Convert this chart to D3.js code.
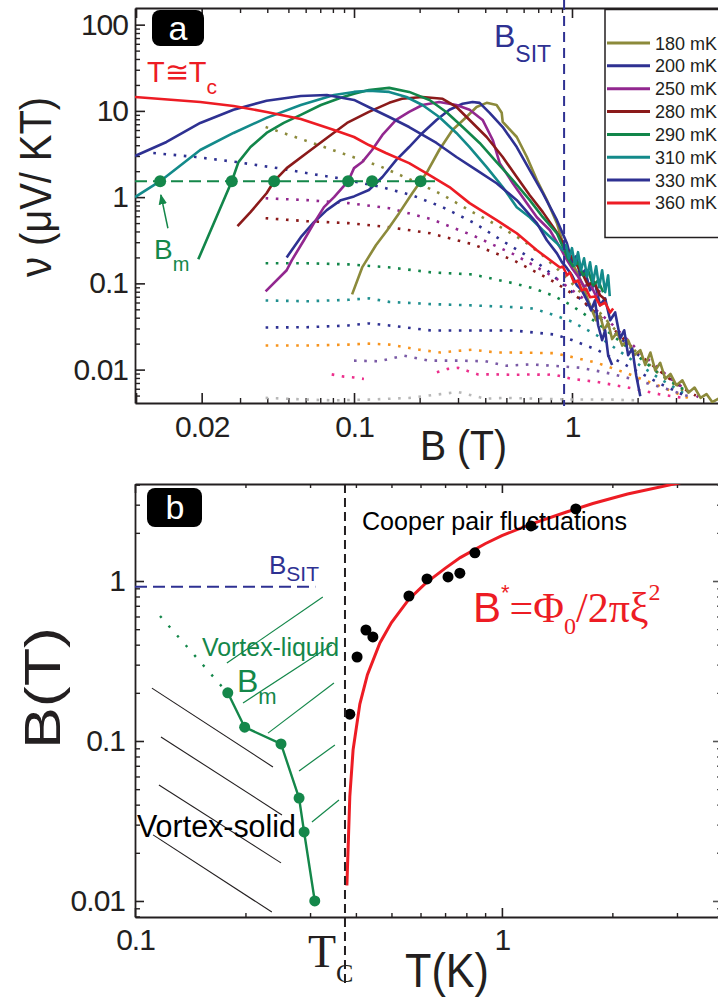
<!DOCTYPE html>
<html><head><meta charset="utf-8">
<script src="https://cdn.jsdelivr.net/npm/d3@7"></script>
<style>
html,body{margin:0;padding:0;background:#fff;}
svg{display:block;}
</style></head><body>
<svg id="fig" width="718" height="998"></svg>
<script>
// ---------- Panel a: Nernst signal nu(B) at several temperatures ----------
const temperatures = ["180 mK","200 mK","250 mK","280 mK","290 mK","310 mK","330 mK","360 mK"];
const curveColors  = ["#8c8a3b","#2e3192","#92278f","#8b1a1a","#12864a","#138a8a","#2e3192","#ed1c24"];

// [B (T), nu (uV/KT)]
const nu180 = [[0.098,0.0745],[0.109,0.153],[0.126,0.277],[0.142,0.413],[0.161,0.652],[0.185,1.11],[0.215,1.9],[0.246,3.52],[0.283,6.0],[0.328,8.5],[0.365,11.1],[0.406,12.4],[0.451,11.7],[0.476,9.5],[0.481,7.45],[0.558,4.98],[0.621,2.92],[0.69,1.58],[0.767,0.923],[0.853,0.499],[0.909,0.292],[0.979,0.195],[1.054,0.134],[1.124,0.0947],[1.185,0.0636],[1.236,0.0487],[1.29,0.0373],[1.345,0.0426],[1.404,0.0286],[1.465,0.035],[1.528,0.0226],[1.612,0.027],[1.70,0.019],[1.81,0.0219],[1.93,0.0147],[2.058,0.0168],[2.17,0.0113],[2.29,0.0158],[2.41,0.0098],[2.54,0.012],[2.68,0.0078],[2.83,0.0089],[3.01,0.0066],[3.21,0.0075],[3.42,0.0054],[3.65,0.0062],[3.89,0.0047],[4.14,0.0052],[4.4,0.0042],[4.7,0.0046]];
const nu200 = [[0.0491,0.2],[0.057,0.343],[0.0655,0.512],[0.075,0.706],[0.087,0.923],[0.1,1.02],[0.117,1.21],[0.135,1.71],[0.156,2.69],[0.179,3.81],[0.206,5.55],[0.239,7.85],[0.274,10.3],[0.315,12.1],[0.35,12.7],[0.377,12.4],[0.419,9.5],[0.481,6.5],[0.558,3.81],[0.64,2.06],[0.735,1.11],[0.853,0.54],[0.948,0.292],[1.0,0.176],[1.043,0.206],[1.089,0.124],[1.148,0.142],[1.21,0.083],[1.276,0.1],[1.345,0.0556],[1.419,0.067],[1.497,0.0373],[1.578,0.046],[1.664,0.023],[1.736,0.0286],[1.81,0.0147],[1.89,0.0175],[1.97,0.0086],[2.058,0.0049]];
const nu250 = [[0.0393,0.0807],[0.0491,0.142],[0.0518,0.185],[0.0589,0.316],[0.0655,0.499],[0.0728,0.765],[0.081,1.0],[0.094,1.53],[0.1,2.17],[0.109,2.55],[0.121,3.52],[0.135,5.26],[0.156,7.85],[0.179,9.73],[0.206,11.7],[0.246,12.7],[0.295,11.7],[0.339,10.3],[0.389,7.85],[0.433,4.6],[0.466,2.48],[0.535,1.45],[0.621,0.852],[0.69,0.585],[0.792,0.413],[0.881,0.262],[0.938,0.195],[1.0,0.15],[1.066,0.12],[1.136,0.092],[1.21,0.1],[1.29,0.071],[1.345,0.083]];
const nu280 = [[0.0292,0.46],[0.0335,0.67],[0.0397,1.11],[0.043,1.53],[0.0491,2.17],[0.0607,3.25],[0.075,4.85],[0.0929,7.25],[0.117,9.73],[0.145,12.4],[0.166,13.8],[0.206,14.5],[0.255,13.8],[0.295,11.1],[0.339,7.85],[0.406,4.98],[0.481,2.92],[0.558,1.71],[0.64,1.05],[0.735,0.67],[0.853,0.39],[0.948,0.242],[1.032,0.176],[1.11,0.134],[1.185,0.0947],[1.26,0.105],[1.345,0.0726],[1.434,0.0636]];
const nu290 = [[0.0193,0.19],[0.0275,1.53],[0.0295,2.55],[0.0335,3.81],[0.0397,5.55],[0.0476,7.25],[0.057,8.98],[0.0705,11.7],[0.087,14.2],[0.1,15.8],[0.117,17.5],[0.145,18.5],[0.179,16.6],[0.222,13.4],[0.265,9.7],[0.315,6.5],[0.377,4.25],[0.451,2.55],[0.535,1.58],[0.64,0.923],[0.735,0.585],[0.853,0.381],[0.909,0.262],[0.958,0.195],[1.01,0.158],[1.066,0.176],[1.124,0.124],[1.185,0.142],[1.249,0.0947],[1.318,0.108],[1.39,0.079]];
const nu310 = [[0.00989,1.0],[0.0129,1.53],[0.0197,3.52],[0.028,5.55],[0.0397,8.3],[0.057,11.7],[0.081,15.3],[0.1,16.6],[0.117,17.1],[0.145,16.6],[0.174,14.5],[0.206,11.7],[0.246,8.5],[0.295,5.55],[0.339,3.81],[0.406,2.23],[0.481,1.31],[0.558,0.765],[0.64,0.585],[0.735,0.413],[0.853,0.292],[0.909,0.242],[0.938,0.277],[0.969,0.195],[1.0,0.256],[1.032,0.162],[1.066,0.23],[1.10,0.142],[1.136,0.195],[1.172,0.12],[1.21,0.176],[1.249,0.103],[1.29,0.158],[1.332,0.09],[1.375,0.142],[1.419,0.079],[1.465,0.124],[1.49,0.071]];
const nu330 = [[0.00989,3.0],[0.0138,4.36],[0.0197,7.25],[0.028,10.3],[0.0397,13.1],[0.057,14.9],[0.075,15.3],[0.1,13.4],[0.121,10.6],[0.145,8.5],[0.179,6.5],[0.239,4.25],[0.295,2.92],[0.365,2.06],[0.451,1.45],[0.558,0.923],[0.69,0.499],[0.767,0.316],[0.853,0.223],[0.899,0.176],[0.948,0.15],[1.0,0.124],[1.054,0.0947],[1.11,0.083],[1.172,0.0636],[1.223,0.0487],[1.276,0.0636],[1.318,0.0327],[1.375,0.0219],[1.419,0.0286],[1.465,0.0147],[1.528,0.0113]];
const nu360 = [[0.00989,14.5],[0.0197,12.7],[0.028,11.4],[0.0397,9.73],[0.057,8.07],[0.081,6.0],[0.1,4.98],[0.117,4.02],[0.14,3.25],[0.179,2.48],[0.222,1.8],[0.274,1.31],[0.339,0.852],[0.451,0.54],[0.558,0.381],[0.69,0.242],[0.881,0.153],[0.909,0.157],[0.948,0.124],[0.979,0.134],[1.021,0.103],[1.066,0.108],[1.11,0.083],[1.16,0.087],[1.21,0.0689],[1.276,0.0706],[1.345,0.0556],[1.419,0.060],[1.497,0.0459],[1.545,0.051]];
const solidCurves = [nu180, nu200, nu250, nu280, nu290, nu310, nu330, nu360];

// dotted curves at higher temperatures
const dotColors = ["#8c8a3b","#2e3192","#92278f","#8b1a1a","#12864a","#1f8f8f","#2e3192","#f7941d","#7a5aa6","#ec2f8c","#b8b8b8"];
const dotOlive  = [[0.0393,6.5],[0.0607,4.48],[0.0929,3.08],[0.131,2.29],[0.179,1.62],[0.252,1.08],[0.35,0.67],[0.481,0.436],[0.594,0.316],[0.72,0.22],[0.85,0.15],[1.0,0.1],[1.3,0.05],[1.8,0.02],[2.5,0.009],[3.3,0.0055]];
const dotNavyHi = [[0.012,3.25],[0.0188,2.92],[0.0289,2.55],[0.0446,2.17],[0.069,1.8],[0.085,1.66],[0.133,1.31],[0.185,1.05],[0.255,0.765],[0.357,0.499],[0.491,0.3],[0.607,0.217],[0.75,0.15],[0.9,0.1],[1.1,0.065],[1.5,0.03],[2.0,0.015],[2.8,0.008],[3.6,0.005]];
const dotPurple = [[0.0393,0.97],[0.0607,0.923],[0.094,0.852],[0.145,0.745],[0.226,0.555],[0.35,0.361],[0.541,0.217],[0.835,0.117],[1.1,0.07],[1.5,0.035],[2.1,0.015],[3.0,0.007],[3.8,0.0048]];
const dotMaroon = [[0.0393,0.57],[0.0607,0.526],[0.094,0.499],[0.145,0.448],[0.224,0.381],[0.35,0.284],[0.541,0.185],[0.835,0.103],[1.1,0.065],[1.5,0.032],[2.1,0.014],[3.0,0.0068],[3.7,0.005]];
const dotGreen  = [[0.0393,0.171],[0.0607,0.171],[0.094,0.166],[0.147,0.153],[0.226,0.134],[0.35,0.127],[0.541,0.1],[0.668,0.0875],[0.835,0.0706],[1.0,0.055],[1.3,0.035],[1.8,0.018],[2.5,0.009],[3.4,0.0055]];
const dotTeal   = [[0.0393,0.0634],[0.0607,0.062],[0.094,0.0645],[0.117,0.067],[0.145,0.061],[0.226,0.0575],[0.35,0.0555],[0.541,0.053],[0.668,0.051],[0.835,0.0425],[1.0,0.036],[1.3,0.025],[1.8,0.014],[2.5,0.008],[3.3,0.0052]];
const dotNavyLo = [[0.0393,0.0308],[0.0607,0.031],[0.094,0.0325],[0.117,0.0343],[0.145,0.0325],[0.226,0.0284],[0.35,0.0284],[0.541,0.0284],[0.835,0.0255],[1.0,0.022],[1.3,0.017],[1.8,0.011],[2.5,0.007],[3.4,0.0048]];
const dotOrange = [[0.0393,0.019],[0.0607,0.019],[0.094,0.0195],[0.117,0.02],[0.145,0.0195],[0.2,0.017],[0.25,0.0158],[0.3,0.0165],[0.35,0.017],[0.45,0.0158],[0.541,0.0158],[0.835,0.0155],[1.0,0.014],[1.3,0.012],[1.8,0.009],[2.5,0.0065],[3.4,0.0047]];
const dotViolet = [[0.1,0.0127],[0.13,0.0125],[0.17,0.0145],[0.22,0.0127],[0.3,0.0127],[0.4,0.0125],[0.5,0.0111],[0.65,0.0115],[0.85,0.011],[1.1,0.0105],[1.5,0.009],[2.0,0.0075],[2.7,0.006],[3.5,0.0048]];
const dotPink   = [[0.24,0.0093],[0.27,0.0102],[0.3,0.0105],[0.37,0.0088],[0.45,0.0088],[0.55,0.0087],[0.65,0.0088],[0.75,0.0087],[0.82,0.0088],[1.0,0.0078],[1.3,0.0072],[1.8,0.0062],[2.5,0.0052],[3.4,0.0046]];
const dotPinkLow = [[0.079,0.0088],[0.09,0.0083],[0.1,0.0081],[0.111,0.0078]];
const dotGray   = [[0.0393,0.0047],[0.06,0.0045],[0.08,0.0044],[0.12,0.0045],[0.18,0.0047],[0.25,0.0052],[0.3,0.0055],[0.4,0.0046],[0.5,0.0047],[0.7,0.0046],[1.0,0.0045],[1.5,0.0045],[2.0,0.0044]];
const dottedCurves = [dotOlive, dotNavyHi, dotPurple, dotMaroon, dotGreen, dotTeal, dotNavyLo, dotOrange, dotViolet, dotPink, dotGray];

// melting field B_m where nu crosses the threshold
const bmFieldsA = [0.0129, 0.0275, 0.043, 0.094, 0.121, 0.202];
const bmLevelA = 1.53;
const bSIT = 0.92;

const nuTickLabels = [0.01, 0.1, 1, 10, 100];
const bTickLabels = [0.02, 0.1, 1];

// ---------- Panel b: phase diagram B(T) ----------
const bmT = [0.179, 0.199, 0.25, 0.28, 0.289, 0.309];
const bmB = [0.2, 0.122, 0.0958, 0.044, 0.027, 0.01];
const bmGuideT = [0.117, 0.174];
const bmGuideB = [0.605, 0.214];
const pairT = [0.385, 0.403, 0.426, 0.445, 0.558, 0.625, 0.713, 0.768, 0.844, 1.2, 1.59];
const pairB = [0.147, 0.335, 0.494, 0.447, 0.806, 1.03, 1.06, 1.12, 1.50, 2.21, 2.82];
const bStarT = [0.378, 0.385, 0.393, 0.41, 0.43, 0.465, 0.5, 0.558, 0.62, 0.7, 0.77, 0.9, 1.0, 1.2, 1.5, 1.77, 2.2, 2.96, 3.6];
const bStarB = [0.0125, 0.045, 0.088, 0.17, 0.26, 0.41, 0.55, 0.77, 0.97, 1.2, 1.4, 1.71, 1.92, 2.27, 2.7, 3.05, 3.5, 4.05, 4.45];
const Tc = 0.3735;
const bSitTmax = 0.31;
// hatching, [[T0,B0],[T1,B1]]
const solidHatch = [[[0.1112,0.214],[0.2377,0.0688]],[[0.1177,0.106],[0.2515,0.0345]],[[0.1162,0.0531],[0.25,0.0173]],[[0.112,0.0259],[0.236,0.00853]]];
const liquidHatch = [[[0.178,0.307],[0.325,0.794]],[[0.197,0.173],[0.344,0.398]],[[0.2304,0.112],[0.3485,0.2305]],[[0.28,0.065],[0.3506,0.0944]],[[0.3036,0.0312],[0.3597,0.0428]]];
const tTickLabels = [0.1, 1];
const bbTickLabels = [0.01, 0.1, 1];

// ---------- drawing ----------
const INK = "#231f20";
const SANS = '"Liberation Sans", Arial, Helvetica, sans-serif';
const SERIF = '"Liberation Serif", "Times New Roman", serif';
const GREEN = "#14874a";
const NAVY = "#2e3192";
const RED = "#ed1c24";

const svg = d3.select("#fig").attr("font-family", SANS);
svg.append("rect").attr("width", 718).attr("height", 998).attr("fill", "#fff");

const xA = d3.scaleLog().domain([0.00989, 6]).range([135, 741.6]);
const yA = d3.scaleLog().domain([0.0041, 156]).range([403, 8]);
const xB = d3.scaleLog().domain([0.1, 3.93]).range([135, 720]);
const yB = d3.scaleLog().domain([0.00794, 4.04]).range([917, 484]);

const defs = svg.append("defs");
defs.append("clipPath").attr("id", "clipA").append("rect").attr("x", 135).attr("y", 8).attr("width", 610).attr("height", 395);
defs.append("clipPath").attr("id", "clipB").append("rect").attr("x", 135).attr("y", 484).attr("width", 585).attr("height", 433);
defs.append("marker").attr("id", "arrowG").attr("viewBox", "0 0 10 10").attr("refX", 9).attr("refY", 5)
  .attr("markerWidth", 7).attr("markerHeight", 7).attr("orient", "auto-start-reverse")
  .append("path").attr("d", "M0,1 L10,5 L0,9 Z").attr("fill", GREEN);

function logTicks(scale) {
  const [d0, d1] = scale.domain();
  const out = [];
  for (let e = Math.floor(Math.log10(d0)); e <= Math.ceil(Math.log10(d1)); e++)
    for (let m = 1; m < 10; m++) {
      const v = +(m * Math.pow(10, e)).toPrecision(4);
      if (v >= d0 * 0.999 && v <= d1 * 1.001) out.push(v);
    }
  return out;
}
const isDecade = v => Math.abs(Math.log10(v) - Math.round(Math.log10(v))) < 1e-9;

function logAxis(axisFn, scale, transform, labels, o) {
  const all = logTicks(scale);
  const hasLab = v => labels.some(l => Math.abs(l - v) / l < 1e-6);
  const majors = all.filter(v => isDecade(v) || hasLab(v));
  const minors = all.filter(v => !(isDecade(v) || hasLab(v)));
  const gMin = svg.append("g").attr("transform", transform)
    .call(axisFn(scale).tickValues(minors).tickSizeInner(-o.minor).tickSizeOuter(0).tickFormat(() => ""));
  gMin.select(".domain").remove();
  gMin.selectAll(".tick line").attr("stroke", o.tickColor || INK).attr("stroke-width", 1.4);
  const gMaj = svg.append("g").attr("transform", transform)
    .call(axisFn(scale).tickValues(majors).tickSizeInner(-o.major).tickSizeOuter(0).tickPadding(o.pad || 0)
      .tickFormat(v => (o.show && hasLab(v)) ? String(v) : ""));
  gMaj.attr("color", INK).attr("font-family", SANS).attr("font-size", o.fs || 30);
  gMaj.select(".domain").attr("stroke-width", o.domainW == null ? 1.8 : o.domainW);
  gMaj.selectAll(".tick line").attr("stroke", o.tickColor || INK).attr("stroke-width", 1.6);
  gMaj.selectAll(".tick text").style("letter-spacing", "-1px");
  return gMaj;
}

// ---- panel a axes ----
logAxis(d3.axisBottom, xA, "translate(0,403)", bTickLabels, {major: 10, minor: 5, pad: 13, show: true});
logAxis(d3.axisTop, xA, "translate(0,8)", bTickLabels, {major: 10, minor: 5});
logAxis(d3.axisLeft, yA, "translate(135,0)", nuTickLabels, {major: 10, minor: 5, pad: 7, show: true});

// dotted data
const lineA = d3.line().x(d => xA(d[0])).y(d => yA(d[1]));
const gA = svg.append("g").attr("clip-path", "url(#clipA)");
dottedCurves.forEach((c, i) => {
  gA.append("path").attr("d", lineA(c)).attr("fill", "none").attr("stroke", dotColors[i])
    .attr("stroke-width", 2.6).attr("stroke-dasharray", "2.6 7.6");
});
gA.append("path").attr("d", lineA(dotPinkLow)).attr("fill", "none").attr("stroke", dotColors[9])
  .attr("stroke-width", 2.6).attr("stroke-dasharray", "2.6 7.6");

// solid curves
solidCurves.forEach((c, i) => {
  gA.append("path").attr("d", lineA(c)).attr("fill", "none").attr("stroke", curveColors[i])
    .attr("stroke-width", 2.6).attr("stroke-linejoin", "round");
});

// B_SIT vertical
svg.append("line").attr("x1", xA(bSIT)).attr("x2", xA(bSIT)).attr("y1", 0).attr("y2", 406)
  .attr("stroke", NAVY).attr("stroke-width", 2).attr("stroke-dasharray", "10 6");

// B_m threshold line and points
svg.append("line").attr("x1", xA(0.00989)).attr("x2", xA(0.24)).attr("y1", yA(bmLevelA)).attr("y2", yA(bmLevelA))
  .attr("stroke", GREEN).attr("stroke-width", 2).attr("stroke-dasharray", "12 6");
svg.selectAll(".bmA").data(bmFieldsA).enter().append("circle")
  .attr("cx", d => xA(d)).attr("cy", yA(bmLevelA)).attr("r", 6).attr("fill", GREEN);
svg.append("line").attr("x1", xA(0.014)).attr("y1", yA(0.436)).attr("x2", xA(0.013)).attr("y2", yA(1.06))
  .attr("stroke", GREEN).attr("stroke-width", 1.5).attr("marker-end", "url(#arrowG)");

// texts panel a
const tTc = svg.append("text").attr("x", 147).attr("y", 82).attr("fill", RED).attr("font-size", 29);
tTc.append("tspan").text("T≅T");
tTc.append("tspan").attr("dy", 12).attr("font-size", 21).text("c");
const tBm = svg.append("text").attr("x", 154).attr("y", 259).attr("fill", GREEN).attr("font-size", 28);
tBm.append("tspan").text("B");
tBm.append("tspan").attr("dy", 12).attr("font-size", 20).text("m");
const tSit = svg.append("text").attr("x", 494).attr("y", 47).attr("fill", NAVY).attr("font-size", 32);
tSit.append("tspan").text("B");
tSit.append("tspan").attr("dy", 15).attr("font-size", 23).text("SIT");

// panel label a
svg.append("rect").attr("x", 152).attr("y", 10).attr("width", 52).attr("height", 36).attr("rx", 8).attr("fill", "#000");
svg.append("text").attr("x", 178).attr("y", 40).attr("text-anchor", "middle").attr("fill", "#fff").attr("font-size", 34).text("a");

// legend
const lg = svg.append("g");
lg.append("rect").attr("x", 605).attr("y", 9.5).attr("width", 200).attr("height", 228)
  .attr("fill", "#fff").attr("stroke", INK).attr("stroke-width", 1.5);
temperatures.forEach((t, i) => {
  const y = 43 + i * 22.85;
  lg.append("line").attr("x1", 607).attr("x2", 650).attr("y1", y).attr("y2", y)
    .attr("stroke", curveColors[i]).attr("stroke-width", 3);
  lg.append("text").attr("x", 655).attr("y", y + 6.5).attr("font-size", 18).attr("fill", INK).text(t);
});

// axis titles panel a
svg.append("text").attr("transform", "translate(51,187) rotate(-90)").attr("text-anchor", "middle")
  .attr("font-size", 44).attr("fill", INK).attr("textLength", 180).attr("lengthAdjust", "spacingAndGlyphs")
  .text("ν (μV/ KT)");
svg.append("text").attr("x", 420).attr("y", 460).attr("font-size", 42).attr("fill", INK)
  .attr("textLength", 87).attr("lengthAdjust", "spacingAndGlyphs").text("B (T)");

// ---- panel b ----
logAxis(d3.axisBottom, xB, "translate(0,917)", tTickLabels, {major: 9, minor: 4, pad: 12, show: true});
logAxis(d3.axisTop, xB, "translate(0,484)", tTickLabels, {major: 9, minor: 4});
logAxis(d3.axisLeft, yB, "translate(135,0)", bbTickLabels, {major: 9, minor: 5, pad: 10, show: true});
logAxis(d3.axisRight, yB, "translate(720,0)", bbTickLabels, {major: 7, minor: 3, tickColor: "#555"});

const gB = svg.append("g").attr("clip-path", "url(#clipB)");
// hatching
solidHatch.forEach(s => gB.append("line").attr("x1", xB(s[0][0])).attr("y1", yB(s[0][1])).attr("x2", xB(s[1][0])).attr("y2", yB(s[1][1]))
  .attr("stroke", INK).attr("stroke-width", 1.1));
liquidHatch.forEach(s => gB.append("line").attr("x1", xB(s[0][0])).attr("y1", yB(s[0][1])).attr("x2", xB(s[1][0])).attr("y2", yB(s[1][1]))
  .attr("stroke", GREEN).attr("stroke-width", 1.2));

// B_SIT horizontal
gB.append("line").attr("x1", xB(0.1)).attr("x2", xB(bSitTmax)).attr("y1", yB(bSIT)).attr("y2", yB(bSIT))
  .attr("stroke", NAVY).attr("stroke-width", 2).attr("stroke-dasharray", "12 6");
// Tc
svg.append("line").attr("x1", xB(Tc)).attr("x2", xB(Tc)).attr("y1", 484).attr("y2", 988)
  .attr("stroke", INK).attr("stroke-width", 2).attr("stroke-dasharray", "9 5");

// B* curve
const lineB = d3.line().x(d => xB(d[0])).y(d => yB(d[1]));
gB.append("path").attr("d", lineB(bStarT.map((t, i) => [t, bStarB[i]]))).attr("fill", "none")
  .attr("stroke", RED).attr("stroke-width", 3);

// B_m line in panel b
gB.append("path").attr("d", lineB(bmGuideT.map((t, i) => [t, bmGuideB[i]]))).attr("fill", "none")
  .attr("stroke", GREEN).attr("stroke-width", 2.4).attr("stroke-dasharray", "2.4 10.6");
gB.append("path").attr("d", lineB(bmT.map((t, i) => [t, bmB[i]]))).attr("fill", "none")
  .attr("stroke", GREEN).attr("stroke-width", 2.4);
gB.selectAll(".bmB").data(bmT).enter().append("circle")
  .attr("cx", d => xB(d)).attr("cy", (d, i) => yB(bmB[i])).attr("r", 5.5).attr("fill", GREEN);
gB.selectAll(".pair").data(pairT).enter().append("circle")
  .attr("cx", d => xB(d)).attr("cy", (d, i) => yB(pairB[i])).attr("r", 5.5).attr("fill", "#000");

// texts panel b
svg.append("rect").attr("x", 147).attr("y", 488).attr("width", 55).attr("height", 39).attr("rx", 8).attr("fill", "#000");
svg.append("text").attr("x", 175).attr("y", 519).attr("text-anchor", "middle").attr("fill", "#fff").attr("font-size", 34).text("b");

const tSitB = svg.append("text").attr("x", 269).attr("y", 574).attr("fill", NAVY).attr("font-size", 26);
tSitB.append("tspan").text("B");
tSitB.append("tspan").attr("dy", 7).attr("font-size", 21).text("SIT");

svg.append("text").attr("x", 202).attr("y", 656).attr("fill", GREEN).attr("font-size", 25)
  .attr("textLength", 137).attr("lengthAdjust", "spacingAndGlyphs").text("Vortex-liquid");
const tBmB = svg.append("text").attr("x", 237).attr("y", 692).attr("fill", GREEN).attr("font-size", 32);
tBmB.append("tspan").text("B");
tBmB.append("tspan").attr("dy", 12).attr("font-size", 22).text("m");
svg.append("text").attr("x", 137).attr("y", 837).attr("fill", "#000").attr("font-size", 31)
  .attr("textLength", 159).attr("lengthAdjust", "spacingAndGlyphs").text("Vortex-solid");
svg.append("text").attr("x", 362).attr("y", 530).attr("fill", "#000").attr("font-size", 26)
  .attr("textLength", 265).attr("lengthAdjust", "spacingAndGlyphs").text("Cooper pair fluctuations");

const fB = svg.append("text").attr("x", 473).attr("y", 622).attr("fill", RED).attr("font-size", 42);
fB.append("tspan").text("B");
fB.append("tspan").attr("dy", -22).attr("font-size", 22).text("*");
fB.append("tspan").attr("dy", 22).attr("font-family", SERIF).text("=Φ");
fB.append("tspan").attr("dy", 12).attr("font-family", SERIF).attr("font-size", 24).text("0");
fB.append("tspan").attr("dy", -12).attr("font-family", SERIF).text("/2πξ");
fB.append("tspan").attr("dy", -22).attr("font-family", SERIF).attr("font-size", 24).text("2");

const tcl = svg.append("text").attr("x", 308).attr("y", 967).attr("fill", INK).attr("font-family", SERIF).attr("font-size", 46);
tcl.append("tspan").text("T");
tcl.append("tspan").attr("dy", 15).attr("font-size", 26).text("C");

svg.append("text").attr("x", 405).attr("y", 987).attr("font-size", 48).attr("fill", INK)
  .attr("textLength", 84).attr("lengthAdjust", "spacingAndGlyphs").text("T(K)");
svg.append("text").attr("transform", "translate(60,688) rotate(-90)").attr("text-anchor", "middle")
  .attr("font-size", 50).attr("fill", INK).attr("textLength", 122).attr("lengthAdjust", "spacingAndGlyphs").text("B(T)");
</script>
</body></html>
